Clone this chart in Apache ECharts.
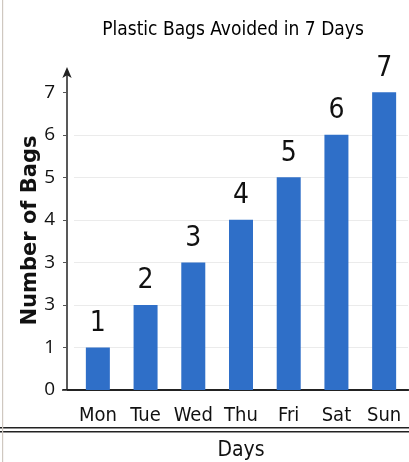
<!DOCTYPE html>
<html>
<head>
<meta charset="utf-8">
<script src="https://cdn.jsdelivr.net/npm/echarts@6/dist/echarts.min.js"></script>
<style>
  html, body { margin: 0; padding: 0; background: #fff; }
  #chart { width: 409px; height: 462px; }
</style>
</head>
<body>
<div id="chart"></div>
<script>
const days = ['Mon', 'Tue', 'Wed', 'Thu', 'Fri', 'Sat', 'Sun']
const bags = [1, 2, 3, 4, 5, 6, 7]
const yTicks = [0, 1, 2, 3, 4, 5, 6, 7]
// tick labels as printed in the picture (the 2 reads "3")
const yTickLabels = ['0', '1', '3', '3', '4', '5', '6', '7']

const NARROW = '"DejaVu Sans Condensed", "DejaVu Sans", sans-serif'
const BAR_BLUE = '#2f6fc8'

const chart = echarts.init(document.getElementById('chart'))

chart.setOption({
  animation: false,
  title: {
    text: 'Plastic Bags Avoided in 7 Days',
    left: 228,
    textAlign: 'center',
    top: 16,
    textStyle: { fontFamily: NARROW, fontSize: 19, fontWeight: 'normal', color: '#000' },
  },
  grid: [
    { left: 74, right: 1, top: 71, bottom: 72, outerBoundsMode: 'none' },
    { left: 63, right: 1, top: 71, bottom: 72, outerBoundsMode: 'none' },
  ],
  xAxis: [
    {
      type: 'category',
      data: days,
      gridIndex: 0,
      axisLine: { lineStyle: { color: '#222', width: 2 } },
      axisTick: { alignWithLabel: true, length: 4, lineStyle: { color: '#555' } },
      axisLabel: { interval: 0, fontFamily: NARROW, fontSize: 20, color: '#111', margin: 16 },
      name: 'Days',
      nameLocation: 'middle',
      nameGap: 50,
      nameTextStyle: { fontFamily: NARROW, fontSize: 21, color: '#111' },
    },
    {
      // longer baseline that reaches back under the y axis
      type: 'value',
      gridIndex: 1,
      position: 'bottom',
      min: 0,
      max: 1,
      axisLine: { show: true, onZero: false, lineStyle: { color: '#222', width: 2 } },
      axisTick: { show: false },
      axisLabel: { show: false },
      splitLine: { show: false },
    },
  ],
  yAxis: [
    {
      type: 'value',
      gridIndex: 0,
      min: 0,
      max: 7.5,
      interval: 1,
      offset: 7,
      axisLine: {
        show: true,
        symbol: ['none', 'arrow'],
        symbolSize: [7, 11],
        symbolOffset: [0, 4],
        lineStyle: { color: '#222', width: 1.5 },
      },
      axisTick: { show: true, length: 4, customValues: yTicks, lineStyle: { color: '#555' } },
      axisLabel: {
        fontFamily: '"Open Sans", "DejaVu Sans", sans-serif',
        fontSize: 19,
        color: '#111',
        margin: 12,
        customValues: yTicks,
        formatter: v => yTickLabels[yTicks.indexOf(v)],
      },
      splitLine: { showMaxLine: false, lineStyle: { color: '#ebebeb' } },
      name: 'Number of Bags',
      nameLocation: 'middle',
      nameGap: 26,
      nameMoveOverlap: false,
      nameTextStyle: { fontFamily: '"DejaVu Sans", sans-serif', fontSize: 21, fontWeight: 'bold', color: '#111' },
    },
    { type: 'value', gridIndex: 1, show: false, min: 0, max: 1 },
  ],
  series: [
    {
      type: 'bar',
      xAxisIndex: 0,
      yAxisIndex: 0,
      data: bags,
      barWidth: 24,
      itemStyle: { color: BAR_BLUE },
      label: {
        show: true,
        position: 'top',
        distance: 10,
        fontFamily: NARROW,
        fontSize: 28,
        color: '#111',
      },
    },
  ],
  graphic: [
    { type: 'rect', shape: { x: 0, y: 427, width: 409, height: 1.5 }, style: { fill: '#222' } },
    { type: 'rect', shape: { x: 0, y: 431, width: 409, height: 1.5 }, style: { fill: '#222' } },
    { type: 'rect', shape: { x: 2, y: 0, width: 1.2, height: 462 }, style: { fill: '#cfc8c0' } },
  ],
})
</script>
</body>
</html>
